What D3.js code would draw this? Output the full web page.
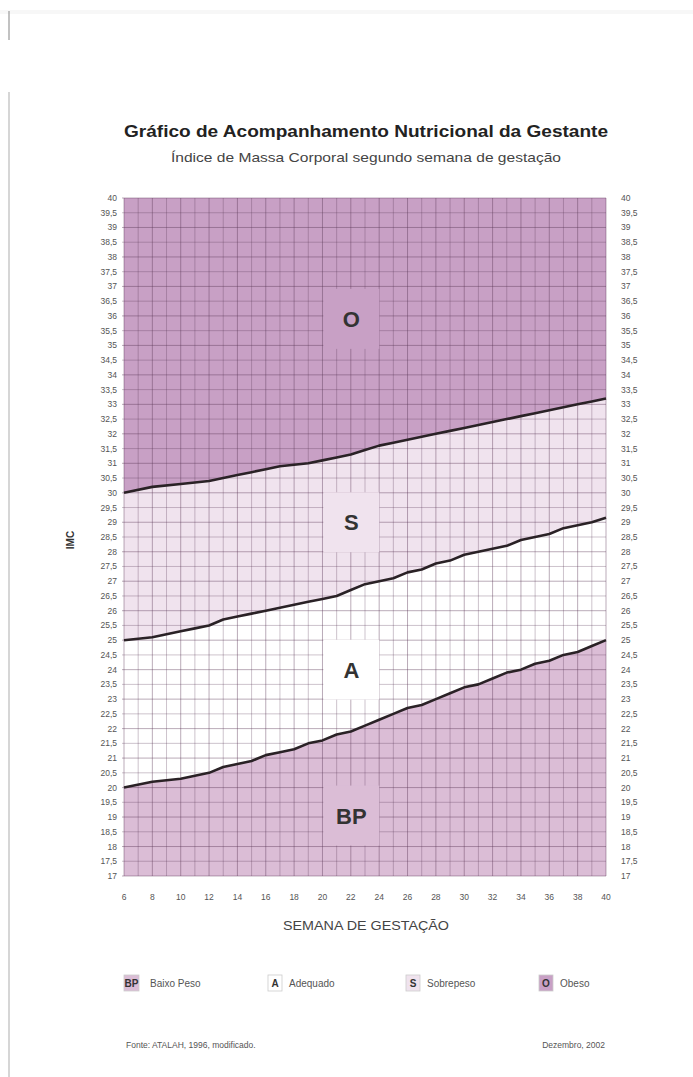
<!DOCTYPE html>
<html><head><meta charset="utf-8">
<script src="https://cdn.jsdelivr.net/npm/d3@7"></script>
<style>
html,body{margin:0;padding:0;background:#fff;}
svg{display:block;font-family:"Liberation Sans",Arial,sans-serif;}
</style></head>
<body>
<script>
// ---- Data (IMC boundaries by gestational week) ----
const weeks      = [6,8,10,11,12,13,14,15,16,17,18,19,20,21,22,23,24,25,26,27,28,29,30,31,32,33,34,35,36,37,38,39,40];
const bpLimit    = [20.0,20.2,20.3,20.4,20.5,20.7,20.8,20.9,21.1,21.2,21.3,21.5,21.6,21.8,21.9,22.1,22.3,22.5,22.7,22.8,23.0,23.2,23.4,23.5,23.7,23.9,24.0,24.2,24.3,24.5,24.6,24.8,25.0];
const sLimit     = [25.0,25.1,25.3,25.4,25.5,25.7,25.8,25.9,26.0,26.1,26.2,26.3,26.4,26.5,26.7,26.9,27.0,27.1,27.3,27.4,27.6,27.7,27.9,28.0,28.1,28.2,28.4,28.5,28.6,28.8,28.9,29.0,29.15];
const oLimit     = [30.0,30.2,30.3,30.35,30.4,30.5,30.6,30.7,30.8,30.9,30.95,31.0,31.1,31.2,31.3,31.45,31.6,31.7,31.8,31.9,32.0,32.1,32.2,32.3,32.4,32.5,32.6,32.7,32.8,32.9,33.0,33.1,33.2];
const xTicks     = [6,8,10,12,14,16,18,20,22,24,26,28,30,32,34,36,38,40];
const yTicks     = d3.range(17, 40.01, 0.5);
const zoneLetters = ["O","S","A","BP"];
const zoneLabelPos = [{w:22,v:35.9},{w:22,v:29.0},{w:22,v:24.0},{w:22,v:19.05}];
const legendCodes = ["BP","A","S","O"];
const legendNames = ["Baixo Peso","Adequado","Sobrepeso","Obeso"];

const W=693,H=1077;
const colO="#c8a0c5", colS="#f0e3ee", colA="#ffffff", colBP="#dbbdd6";

const svg=d3.select("body").append("svg").attr("width",W).attr("height",H);

// page edge artifacts
svg.append("rect").attr("x",0).attr("y",10).attr("width",W).attr("height",4).attr("fill","#f7f7f7");
svg.append("line").attr("x1",9).attr("x2",9).attr("y1",11).attr("y2",40).attr("stroke","#999").attr("stroke-width",1.2);
svg.append("line").attr("x1",9).attr("x2",9).attr("y1",92).attr("y2",H).attr("stroke","#bbb").attr("stroke-width",1.2);

const x=d3.scaleLinear().domain([6,40]).range([124,606]);
const y=d3.scaleLinear().domain([17,40]).range([876,198]);

const rows=weeks.map((w,i)=>({w,bp:bpLimit[i],s:sLimit[i],o:oLimit[i]}));

// zones
const area=(lo,hi)=>d3.area().x(d=>x(d.w)).y0(d=>y(lo(d))).y1(d=>y(hi(d)));
svg.append("path").datum(rows).attr("d",area(d=>d.o,()=>40)).attr("fill",colO);
svg.append("path").datum(rows).attr("d",area(d=>d.s,d=>d.o)).attr("fill",colS);
svg.append("path").datum(rows).attr("d",area(d=>d.bp,d=>d.s)).attr("fill",colA);
svg.append("path").datum(rows).attr("d",area(()=>17,d=>d.bp)).attr("fill",colBP);

// grid
const g=svg.append("g");
d3.range(6,40.01,1).forEach(w=>{
  g.append("line").attr("x1",x(w)).attr("x2",x(w)).attr("y1",y(40)).attr("y2",y(17))
   .attr("stroke",w%2===0?"rgba(90,55,85,0.42)":"rgba(90,55,85,0.30)").attr("stroke-width",1);
});
yTicks.forEach(v=>{
  g.append("line").attr("x1",x(6)-2).attr("x2",x(40)).attr("y1",y(v)).attr("y2",y(v))
   .attr("stroke",Number.isInteger(v)?"rgba(90,55,85,0.42)":"rgba(90,55,85,0.30)").attr("stroke-width",1);
});

// zone labels with boxes
const boxFill=[colO,colS,colA,colBP];
zoneLetters.forEach((t,i)=>{
  const p=zoneLabelPos[i];
  const cx=x(p.w)+0.5, cy=y(p.v);
  svg.append("rect").attr("x",cx-28).attr("y",cy-30).attr("width",56).attr("height",60).attr("fill",boxFill[i]);
  svg.append("text").attr("x",cx).attr("y",cy+8).attr("text-anchor","middle")
    .attr("font-size",22).attr("font-weight","bold").attr("fill","#333").text(t);
});

// boundary lines
const line=f=>d3.line().x(d=>x(d.w)).y(d=>y(f(d)));
[d=>d.bp,d=>d.s,d=>d.o].forEach(f=>{
  svg.append("path").datum(rows).attr("d",line(f)).attr("fill","none")
    .attr("stroke","#2a2226").attr("stroke-width",2.6).attr("stroke-linejoin","round");
});

// axes labels
const fmt=v=>Number.isInteger(v)?String(v):String(v).replace(".",",");
const yl=svg.append("g").attr("font-size",8.5).attr("fill","#555");
yTicks.forEach(v=>{
  yl.append("text").attr("x",117).attr("y",y(v)+3).attr("text-anchor","end").text(fmt(v));
  yl.append("text").attr("x",621).attr("y",y(v)+3).attr("text-anchor","start").text(fmt(v));
});
const xl=svg.append("g").attr("font-size",8.5).attr("fill","#555");
xTicks.forEach(w=>{
  xl.append("text").attr("x",x(w)).attr("y",900).attr("text-anchor","middle").text(w);
});

// titles
svg.append("text").attr("x",366).attr("y",137).attr("text-anchor","middle").attr("font-size",17)
  .attr("font-weight","bold").attr("fill","#222").attr("textLength",484).attr("lengthAdjust","spacingAndGlyphs")
  .text("Gráfico de Acompanhamento Nutricional da Gestante");
svg.append("text").attr("x",366).attr("y",162).attr("text-anchor","middle").attr("font-size",13.5)
  .attr("fill","#444").attr("textLength",390).attr("lengthAdjust","spacingAndGlyphs")
  .text("Índice de Massa Corporal segundo semana de gestação");
svg.append("text").attr("transform","translate(74,540) rotate(-90)").attr("text-anchor","middle")
  .attr("font-size",10).attr("font-weight","bold").attr("fill","#333").text("IMC");
svg.append("text").attr("x",366).attr("y",930).attr("text-anchor","middle").attr("font-size",12)
  .attr("fill","#444").attr("textLength",166).attr("lengthAdjust","spacingAndGlyphs").text("SEMANA DE GESTAÇÃO");

// legend
const legX=[124,268,406,539];
const legCol=[colBP,colA,colS,colO];
legendCodes.forEach((c,i)=>{
  const lx=legX[i];
  svg.append("rect").attr("x",lx).attr("y",975).attr("width",c==="BP"?15:14).attr("height",16)
    .attr("fill",legCol[i]).attr("stroke","#ccc").attr("stroke-width",0.8);
  svg.append("text").attr("x",lx+(c==="BP"?7.5:7)).attr("y",987).attr("text-anchor","middle")
    .attr("font-size",10).attr("font-weight","bold").attr("fill","#333").text(c);
  svg.append("text").attr("x",lx+(c==="BP"?26:21)).attr("y",987).attr("font-size",10).attr("fill","#555").text(legendNames[i]);
});

// footer
svg.append("text").attr("x",126).attr("y",1048).attr("font-size",8.5).attr("fill","#555").text("Fonte: ATALAH, 1996, modificado.");
svg.append("text").attr("x",605).attr("y",1048).attr("text-anchor","end").attr("font-size",8.5).attr("fill","#555").text("Dezembro, 2002");
</script>
</body></html>
